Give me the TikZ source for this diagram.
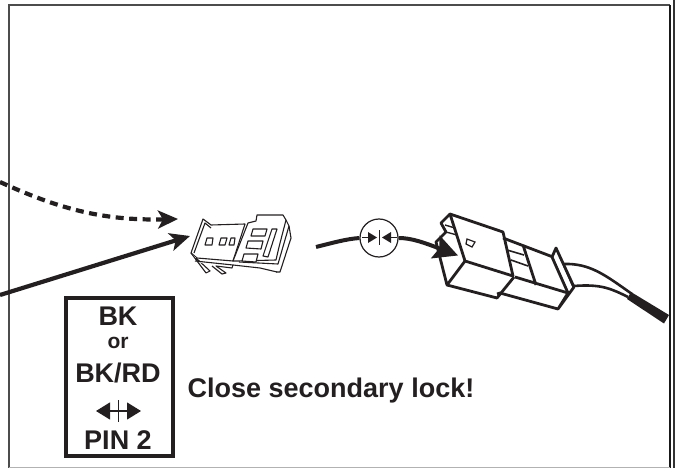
\documentclass[tikz,border=0pt]{standalone}
\usepackage{fontspec}
\setmainfont{Liberation Sans}
\usetikzlibrary{arrows.meta,positioning}
\definecolor{inkblack}{HTML}{231F20}
\tikzset{
  bigtip/.style={-{Stealth[length=20pt,width=18pt,inset=5pt]}},
  labeltext/.style={font=\bfseries\fontsize{27}{27}\selectfont, text=inkblack, inner sep=0pt},
  thinpart/.style={draw=inkblack, line width=1.1pt, line join=round, fill=white},
  plugpart/.style={draw=inkblack, line width=2.8pt, line join=round},
}
\begin{document}
\begin{tikzpicture}[x=1pt,y=-1pt]
        \useasboundingbox (0,0) rectangle (680,468);
        % Frame
        \draw[line width=1.2pt, draw=black!70] (9,468) -- (9,5) -- (670,5);
        \draw[line width=1.4pt, draw=black!90] (670,5) -- (670,468);
        \draw[line width=1.4pt, draw=black!80] (674,0) -- (674,468);
        \draw[line width=0.8pt, draw=black!30] (9,467) -- (670,467);
        % Nodes
        \node (pinbox) [rectangle, draw=inkblack, line width=3.4pt, minimum width=107pt, minimum height=158pt, inner sep=0pt] at (119.5, 377) {};
        \node (bk) [labeltext] at (118, 316) {BK};
        \node (or) [labeltext, font=\bfseries\fontsize{21}{21}\selectfont] at (118, 343) {or};
        \node (bkrd) [labeltext] at (118, 373) {BK/RD};
        \node (pin) [labeltext] at (118, 440) {PIN 2};
        \node (closelock) [labeltext] at (331, 391) {Close secondary lock!};
        \node (lockring) [circle, draw=inkblack, line width=1.2pt, minimum size=38pt, inner sep=0pt] at (379, 238) {};
        \coordinate (pinleft) at (96, 411);
        \coordinate (pinright) at (141, 411);
        \coordinate (dashstart) at (0, 182);
        \coordinate (dashend) at (178, 219);
        \coordinate (solidstart) at (0, 295);
        \coordinate (solidend) at (190, 236);
        \coordinate (wirestart) at (316, 247);
        \coordinate (wireend) at (458, 255.5);
        % Arrow
        \draw[{Stealth[length=14pt,width=17pt,inset=0pt]}-{Stealth[length=14pt,width=17pt,inset=0pt]}, line width=1.2pt, inkblack] (pinleft) -- (pinright);
        \draw[line width=0.8pt, inkblack] (118,400) -- (118,422);
        \draw[bigtip, line width=4.2pt, inkblack, dash pattern=on 8pt off 5.5pt] (dashstart) .. controls (55,207) and (100,221) .. (dashend);
        \draw[bigtip, line width=4.2pt, inkblack] (solidstart) -- (solidend);
        \draw[line width=4pt, inkblack] (wirestart) .. controls (332,243) and (346,239) .. (lockring.west);
        \draw[-{Stealth[length=24pt,width=24pt,inset=4pt]}, line width=4pt, inkblack] (lockring.east) .. controls (412,238) and (425,243) .. (wireend);
        \fill[inkblack] (368,232) -- (377,237.5) -- (368,243) -- cycle;
        \fill[inkblack] (391,232) -- (382,237.5) -- (391,243) -- cycle;
        \draw[line width=1pt, inkblack] (362,237.5) -- (368,237.5) (391,237.5) -- (397,237.5);
        \draw[line width=0.7pt, inkblack] (379,230) -- (379,245);
        % Small connector
        \draw[thinpart] (191,253) -- (203,219) -- (211,225) -- (245,224) -- (233,261) -- (197,258) -- cycle;
        \draw[thinpart, fill=none] (194,253) -- (205,223) -- (211,228);
        \draw[thinpart] (191,253) -- (206,273) -- (210,271) -- (196,258);
        \draw[thinpart] (195,261) -- (233,265) -- (232,268) -- (216,266) -- (226,273) -- (222,274) -- (212,266);
        \draw[thinpart, fill=none] (233,265) -- (260,268) -- (277,272);
        \draw[thinpart] (248,223) -- (256,221) -- (257,215) -- (283,215) -- (286,220) -- (279,247) -- (276,260) -- (238,261) -- (233,261) -- cycle;
        \draw[thinpart, fill=none] (286,220) -- (289,226) -- (278,264) -- (239,262);
        \draw[thinpart, fill=none] (289,226) -- (291,238) -- (280,272) -- (276,272);
        \draw[thinpart] (207,238) -- (213,238) -- (212,245) -- (205,245) -- cycle;
        \draw[thinpart] (221,238) -- (227,238) -- (225,245) -- (219,245) -- cycle;
        \draw[thinpart] (231,238) -- (235,238) -- (234,245) -- (229,245) -- cycle;
        \draw[thinpart] (253,229) -- (267,229) -- (265,236) -- (251,236) -- cycle;
        \draw[thinpart] (248,241) -- (263,241) -- (261,249) -- (246,248) -- cycle;
        \draw[thinpart] (244,254) -- (258,254) -- (256,262) -- (242,261) -- cycle;
        \draw[thinpart] (272,229) -- (277,229) -- (268,257) -- (263,256) -- cycle;
        % Big plug
        \draw[plugpart] (450,214) -- (503,232) -- (513,276) -- (465,261) -- cycle;
        \draw[plugpart] (450,214) -- (441,223) -- (446,232) -- (436,242) -- (447,285) -- (465,261);
        \draw[plugpart] (447,285) -- (497,298) -- (514,277);
        \draw[line width=1.4pt, inkblack] (445,225) -- (455,228) (446,232) -- (457,235);
        \draw[line width=1.2pt, inkblack] (467,239) -- (475,242) -- (472,247) -- (466,244) -- cycle;
        \draw[plugpart] (503,238) -- (553,257);
        \draw[line width=1.6pt, inkblack] (507,250) -- (524,255) (511,260) -- (528,266);
        \draw[plugpart] (523,245) -- (536,285);
        \draw[plugpart] (515,277) -- (568,293);
        \draw[plugpart] (497,294) -- (500,293) -- (558,309) -- (574,287) -- (556,248) -- (552,257) -- (568,293) -- (558,309);
        \draw[line width=1.4pt, inkblack] (556,248) -- (573,287);
        \draw[line width=2.6pt, inkblack] (563,264) .. controls (590,263) and (605,275) .. (632,294);
        \draw[line width=2.6pt, inkblack] (574,286) .. controls (600,284) and (610,288) .. (628,297);
        \fill[inkblack] (631,292) -- (669,315) -- (664,323.5) -- (627,299) -- cycle;
\end{tikzpicture}
\end{document}
